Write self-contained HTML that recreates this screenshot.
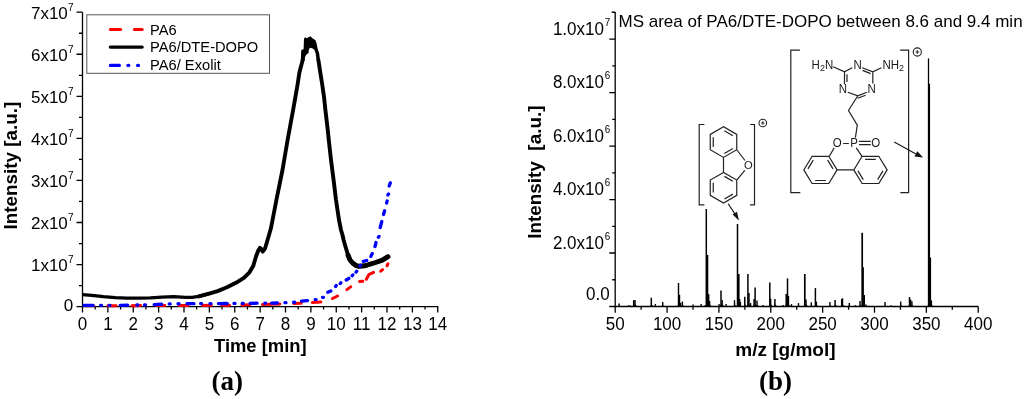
<!DOCTYPE html>
<html><head><meta charset="utf-8"><style>
html,body{margin:0;padding:0;background:#fff;width:1024px;height:399px;overflow:hidden}
svg{display:block;will-change:transform}

</style></head><body>
<svg width="1024" height="399" viewBox="0 0 1024 399">
<rect width="1024" height="399" fill="#fff"/>
<g stroke="#000" stroke-width="1.3" fill="none">
<path d="M82.5 12.2 V306.6 H438.2"/>
<path d="M76.5 12.2H82.5M79 33.23H82.5M76.5 54.26H82.5M79 75.29H82.5M76.5 96.32H82.5M79 117.35H82.5M76.5 138.38H82.5M79 159.41H82.5M76.5 180.44H82.5M79 201.47H82.5M76.5 222.5H82.5M79 243.53H82.5M76.5 264.56H82.5M79 285.59H82.5M76.5 306.62H82.5M82.5 306.6V312.5M95.19 306.6V309.5M107.88 306.6V312.5M120.56 306.6V309.5M133.25 306.6V312.5M145.94 306.6V309.5M158.62 306.6V312.5M171.31 306.6V309.5M184 306.6V312.5M196.69 306.6V309.5M209.38 306.6V312.5M222.06 306.6V309.5M234.75 306.6V312.5M247.44 306.6V309.5M260.12 306.6V312.5M272.81 306.6V309.5M285.5 306.6V312.5M298.19 306.6V309.5M310.88 306.6V312.5M323.56 306.6V309.5M336.25 306.6V312.5M348.94 306.6V309.5M361.62 306.6V312.5M374.31 306.6V309.5M387 306.6V312.5M399.69 306.6V309.5M412.38 306.6V312.5M425.06 306.6V309.5M437.75 306.6V312.5"/>
</g>
<g font-family="Liberation Sans" font-size="17" fill="#000" text-anchor="end">
<text x="67.8" y="19">7x10</text>
<text x="73.5" y="10.7" font-size="10">7</text>
<text x="67.8" y="61.06">6x10</text>
<text x="73.5" y="52.76" font-size="10">7</text>
<text x="67.8" y="103.12">5x10</text>
<text x="73.5" y="94.82" font-size="10">7</text>
<text x="67.8" y="145.18">4x10</text>
<text x="73.5" y="136.88" font-size="10">7</text>
<text x="67.8" y="187.24">3x10</text>
<text x="73.5" y="178.94" font-size="10">7</text>
<text x="67.8" y="229.3">2x10</text>
<text x="73.5" y="221" font-size="10">7</text>
<text x="67.8" y="271.36">1x10</text>
<text x="73.5" y="263.06" font-size="10">7</text>
<text x="73.3" y="310.5">0</text>
</g>
<g font-family="Liberation Sans" font-size="17" fill="#000" text-anchor="middle">
<text transform="translate(82.5 330) scale(1 1.04)">0</text>
<text transform="translate(107.88 330) scale(1 1.04)">1</text>
<text transform="translate(133.25 330) scale(1 1.04)">2</text>
<text transform="translate(158.62 330) scale(1 1.04)">3</text>
<text transform="translate(184 330) scale(1 1.04)">4</text>
<text transform="translate(209.38 330) scale(1 1.04)">5</text>
<text transform="translate(234.75 330) scale(1 1.04)">6</text>
<text transform="translate(260.12 330) scale(1 1.04)">7</text>
<text transform="translate(285.5 330) scale(1 1.04)">8</text>
<text transform="translate(310.88 330) scale(1 1.04)">9</text>
<text transform="translate(336.25 330) scale(1 1.04)">10</text>
<text transform="translate(361.62 330) scale(1 1.04)">11</text>
<text transform="translate(387 330) scale(1 1.04)">12</text>
<text transform="translate(412.38 330) scale(1 1.04)">13</text>
<text transform="translate(437.75 330) scale(1 1.04)">14</text>
</g>
<rect x="86.8" y="14.8" width="182.7" height="58.5" fill="none" stroke="#555" stroke-width="1"/>
<g stroke-width="3.2" stroke-linecap="round" fill="none">
<path d="M110.4 29.5H120.6M134.4 29.5H142.1" stroke="#f00"/>
<path d="M110.4 47.1H142.1" stroke="#000" stroke-width="3.4"/>
<path d="M110.4 65.4H119.4M127.9 65.4h0.9M137.6 65.4h0.9" stroke="#00f"/>
</g>
<g font-family="Liberation Sans" font-size="14.7" fill="#000">
<text x="150" y="34.7">PA6</text>
<text x="150" y="52.2">PA6/DTE-DOPO</text>
<text x="150" y="70.1">PA6/ Exolit</text>
</g>
<clipPath id="cp"><rect x="82.6" y="0" width="360" height="320"/></clipPath>
<path clip-path="url(#cp)" d="M84.5 305.79L93.5 305.76M107.9 305.71L116 305.69M131.9 305.63L140.6 305.6M156.5 305.55L164.7 305.52M178.8 305.47L188.1 305.44M202.5 305.39L211.3 305.36M221.9 305.33L229.5 305.3M241.9 304.97L250 304.75M262.4 304.41L279.8 303.93M293.7 303.55L301.2 303.26M312.4 302.54L320.8 301.95M332.5 298.5L337.5 296M346.9 289.6L350.7 286.9M359.6 281.6L362.8 281.3M366.3 279.2L368.8 274.7L373.5 272.4M380.8 271.2L382.6 269.7M387.1 265.8L387.9 263.8" stroke="#f00" stroke-width="3" fill="none" stroke-linecap="round" stroke-linejoin="round"/>
<path clip-path="url(#cp)" d="M82.5 294.6 L91.7 295.3 L103.4 296.7 L115.2 297.7 L126.9 298.1 L138.6 298.2 L150.3 297.9 L162 297.1 L173.8 296.7 L185.5 297.3 L192 297.4 L198.8 296.3 L208.2 293.9" stroke="#000" stroke-width="3.3" fill="none" stroke-linejoin="round" stroke-linecap="round"/>
<path d="M198.8 296.3 L208.2 293.9 L217.6 291.1 L227 287.3 L236.4 282.6 L243.9 277.9 L249.5 272.3 L253.3 265.7 L256.1 256.3 L258.3 250.5 L259.9 247.9 L261.3 249 L262.7 251.6 L265 248.5 L268 238.5 L271 228 L276.4 200 L282.5 170 L287.6 140 L293.1 110 L295.3 97.6 L297.5 85 L299.4 72.5 L302.7 60 M318.4 60 L320.3 72.5 L322.3 85 L324.1 97.6 L325.4 110 L327.3 126 L329 142 L331 160 L333.6 180 L336 200 L337.5 210 L339 220 L341 230 L342.5 235 L343.6 240 L345 245 L346.5 250 L348 255 L350 260 L352.6 263 L355.6 265.3 L359.1 266.3 L365.1 265.8 L371.1 263.8 L375.6 262.5 L382.4 260.1 L388 256.7" stroke="#000" stroke-width="3.9" fill="none" stroke-linejoin="round" stroke-linecap="round"/>
<path d="M300.8 60.5L301.2 50.6L302.2 49.6L303.6 49.2L304 38.7L305 37.3L306.8 38.3L308.9 36.9L310.6 36.2L312.1 38L313.8 39L315.6 40.4L316.6 43.6L317.7 48.9L319.1 53.1L320.1 60.5L316.6 60.5L315.6 53.1L314.2 49.6L312.1 48.2L310 47.8L308.9 49.6L308.5 53.1L306.4 54.5L305 57.3L304.7 60.5Z" fill="#000"/>
<path d="M348 255 L350 260 L352.6 263 L355.6 265.3 L359.1 266.3 L365.1 265.8 L371.1 263.8 L375.6 262.5 L382.4 260.1 L388 256.7" stroke="#000" stroke-width="4.9" fill="none" stroke-linejoin="round" stroke-linecap="round"/>
<path clip-path="url(#cp)" d="M84 305.4L93 305.37M100.6 305.35h1M109 305.33h1M120.2 305.3L127.7 305.17M136.9 305.01h1M144.5 304.88h1M154.2 304.6L161.7 304.25M169.2 303.97h1M178 303.74h1M187 303.67L194 303.64M200.6 303.62h1M210 303.58h1M218.4 303.55L227.2 303.51M234 303.45h1M242.2 303.37h1M250.1 303.29L257.1 303.22M264.7 303.13h1M271.5 303.07L277.4 303.01M285 302.65h1M293.6 302.24h1M301.5 301.18L307.5 300.68M315.1 299.57h1M322.5 297.3h1M327.8 292.3L330.8 291M335.6 286.4L336.2 285.6M340.3 283.6L340.9 282.8M346.3 280L348.9 278.3M352.2 275.7L352.8 274.9M356.1 272.1L356.7 271.3M360 266L360.6 265.2M363.3 261.4L366.7 260.5M370.9 256.4L372.2 253.6M375 246.5L376 242.5M378.4 237.2L379 236.4M380.2 227.5L381.8 221.5M383.5 214.5L384.6 210.8M386.6 203L387.2 201M387.9 194.9L388.5 194.1M389.2 186L390.3 182.9" stroke="#00f" stroke-width="3.3" fill="none" stroke-linecap="round" stroke-linejoin="round"/>
<text transform="translate(16.7 229.4) rotate(-90)" font-family="Liberation Sans" font-weight="bold" font-size="18.85" xml:space="preserve">Intensity [a.u.]</text>
<text x="214" y="352.3" font-family="Liberation Sans" font-weight="bold" font-size="18.4">Time [min]</text>
<text x="211.5" y="390" font-family="Liberation Serif" font-weight="bold" font-size="27">(a)</text>
<g stroke="#000" stroke-width="1.3" fill="none">
<path d="M615.2 12 V306.5 M609.3 306.5 H978.3"/>
<path d="M611.7 12.2H615.2M609.3 39.1H615.2M612.2 12.36H615.2M609.3 92.58H615.2M612.2 65.84H615.2M609.3 146.06H615.2M612.2 119.32H615.2M609.3 199.54H615.2M612.2 172.8H615.2M609.3 253.02H615.2M612.2 226.28H615.2M612.2 279.76H615.2M615.2 306.5V312.8M641.13 306.5V309.8M667.06 306.5V312.8M692.99 306.5V309.8M718.92 306.5V312.8M744.85 306.5V309.8M770.78 306.5V312.8M796.71 306.5V309.8M822.64 306.5V312.8M848.57 306.5V309.8M874.5 306.5V312.8M900.43 306.5V309.8M926.36 306.5V312.8M952.29 306.5V309.8M978.22 306.5V312.8"/>
</g>
<g font-family="Liberation Sans" font-size="17" fill="#000" text-anchor="end">
<text transform="translate(603.9 35) scale(1 1.06)">1.0x10</text>
<text transform="translate(604.8 26) scale(1 1.06)" font-size="9.8" text-anchor="start">7</text>
<text transform="translate(603.9 88.48) scale(1 1.06)">8.0x10</text>
<text transform="translate(604.8 79.48) scale(1 1.06)" font-size="9.8" text-anchor="start">6</text>
<text transform="translate(603.9 141.96) scale(1 1.06)">6.0x10</text>
<text transform="translate(604.8 132.96) scale(1 1.06)" font-size="9.8" text-anchor="start">6</text>
<text transform="translate(603.9 195.44) scale(1 1.06)">4.0x10</text>
<text transform="translate(604.8 186.44) scale(1 1.06)" font-size="9.8" text-anchor="start">6</text>
<text transform="translate(603.9 248.92) scale(1 1.06)">2.0x10</text>
<text transform="translate(604.8 239.92) scale(1 1.06)" font-size="9.8" text-anchor="start">6</text>
<text transform="translate(609.6 299.6) scale(1 1.06)">0.0</text>
</g>
<g font-family="Liberation Sans" font-size="17" fill="#000" text-anchor="middle">
<text transform="translate(615.2 330) scale(1 1.06)">50</text>
<text transform="translate(667.06 330) scale(1 1.06)">100</text>
<text transform="translate(718.92 330) scale(1 1.06)">150</text>
<text transform="translate(770.78 330) scale(1 1.06)">200</text>
<text transform="translate(822.64 330) scale(1 1.06)">250</text>
<text transform="translate(874.5 330) scale(1 1.06)">300</text>
<text transform="translate(926.36 330) scale(1 1.06)">350</text>
<text transform="translate(978.22 330) scale(1 1.06)">400</text>
</g>
<text x="618.5" y="26.6" font-family="Liberation Sans" font-size="17">MS area of PA6/DTE-DOPO between 8.6 and 9.4 min</text>
<text transform="translate(540.6 238.8) rotate(-90)" font-family="Liberation Sans" font-weight="bold" font-size="18.9" xml:space="preserve">Intensity  [a.u.]</text>
<text x="735.3" y="356" font-family="Liberation Sans" font-weight="bold" font-size="19">m/z [g/mol]</text>
<text x="759" y="390" font-family="Liberation Serif" font-weight="bold" font-size="27">(b)</text>
<path d="M617.9 306.5L619.1 305.63L621.7 306.5ZM632.5 306.5L633.7 304.61L636.3 306.5ZM633.8 306.5L635 304.55L637.6 306.5ZM650.1 306.5L651.3 304.3L653.9 306.5ZM654.2 306.5L655.4 305.75L658 306.5ZM661.5 306.5L662.7 305.18L665.3 306.5ZM677.3 306.5L678.5 304.3L681.1 306.5ZM678.2 306.5L679.4 304.3L682 306.5ZM679.4 306.5L680.6 305.39L683.2 306.5ZM681.2 306.5L682.4 305L685 306.5ZM699.9 306.5L701.1 305.72L703.7 306.5ZM705.1 306.5L706.3 304.3L708.9 306.5ZM706.1 306.5L707.3 304.3L709.9 306.5ZM707.4 306.5L708.6 304.3L711.2 306.5ZM708.4 306.5L709.6 304.85L712.2 306.5ZM717.9 306.5L719.1 305.72L721.7 306.5ZM719.8 306.5L721 304.3L723.6 306.5ZM721 306.5L722.2 304.58L724.8 306.5ZM724.9 306.5L726.1 305.75L728.7 306.5ZM733.3 306.5L734.5 304.58L737.1 306.5ZM736.3 306.5L737.5 304.3L740.1 306.5ZM737.5 306.5L738.7 304.3L741.3 306.5ZM738.4 306.5L739.6 304.3L742.2 306.5ZM739.2 306.5L740.4 305.15L743 306.5ZM743.6 306.5L744.8 304.3L747.4 306.5ZM746.7 306.5L747.9 304.3L750.5 306.5ZM747.7 306.5L748.9 304.3L751.5 306.5ZM749.4 306.5L750.6 305.45L753.2 306.5ZM752.9 306.5L754.1 304.3L756.7 306.5ZM753.9 306.5L755.1 304.3L757.7 306.5ZM755.8 306.5L757 304.73L759.6 306.5ZM768.6 306.5L769.8 304.3L772.4 306.5ZM769.4 306.5L770.6 304.3L773.2 306.5ZM773.7 306.5L774.9 304.3L777.5 306.5ZM785 306.5L786.2 304.3L788.8 306.5ZM786.3 306.5L787.5 304.3L790.1 306.5ZM787.2 306.5L788.4 304.3L791 306.5ZM790.3 306.5L791.5 305.78L794.1 306.5ZM797.3 306.5L798.5 305.48L801.1 306.5ZM803.6 306.5L804.8 304.3L807.4 306.5ZM804.8 306.5L806 304.43L808.6 306.5ZM810.1 306.5L811.3 305.24L813.9 306.5ZM814.2 306.5L815.4 304.3L818 306.5ZM815.2 306.5L816.4 305.03L819 306.5ZM828.7 306.5L829.9 305.18L832.5 306.5ZM833.9 306.5L835.1 304.52L837.7 306.5ZM840.5 306.5L841.7 304.3L844.3 306.5ZM841.3 306.5L842.5 304.3L845.1 306.5ZM848.1 306.5L849.3 305.45L851.9 306.5ZM858.8 306.5L860 304.88L862.6 306.5ZM861 306.5L862.2 304.3L864.8 306.5ZM861.8 306.5L863 304.3L865.6 306.5ZM863 306.5L864.2 304.3L866.8 306.5ZM883.8 306.5L885 305.15L887.6 306.5ZM899.5 306.5L900.7 305.03L903.3 306.5ZM908.3 306.5L909.5 304.3L912.1 306.5ZM909.4 306.5L910.6 304.43L913.2 306.5ZM910.7 306.5L911.9 304.91L914.5 306.5ZM927.3 306.5L928.5 304.3L931.1 306.5ZM928.2 306.5L929.4 304.3L932 306.5ZM929.2 306.5L930.4 304.3L933 306.5ZM930.2 306.5L931.4 304.67L934 306.5Z" fill="#000"/>
<g stroke="#000" fill="none">
<path d="M619.1 306.5V303.6" stroke-width="1.5"/>
<path d="M628.4 306.5V305.3" stroke-width="1.2"/>
<path d="M630.2 306.5V305.3" stroke-width="1.2"/>
<path d="M633.7 306.5V300.2" stroke-width="1.5"/>
<path d="M635 306.5V300" stroke-width="1.5"/>
<path d="M651.3 306.5V297.7" stroke-width="1.5"/>
<path d="M655.4 306.5V304" stroke-width="1.3"/>
<path d="M662.7 306.5V302.1" stroke-width="1.4"/>
<path d="M678.5 306.5V283" stroke-width="1.4"/>
<path d="M679.4 306.5V294.8" stroke-width="1.6"/>
<path d="M680.6 306.5V302.8" stroke-width="1.4"/>
<path d="M682.4 306.5V301.5" stroke-width="1.4"/>
<path d="M693.1 306.5V304.5" stroke-width="1.4"/>
<path d="M701.1 306.5V303.9" stroke-width="1.4"/>
<path d="M705.2 306.5V305" stroke-width="1.2"/>
<path d="M706.3 306.5V209" stroke-width="1.5"/>
<path d="M707.3 306.5V255" stroke-width="2.0"/>
<path d="M708.6 306.5V294.2" stroke-width="1.6"/>
<path d="M709.6 306.5V301" stroke-width="1.4"/>
<path d="M719.1 306.5V303.9" stroke-width="1.3"/>
<path d="M721 306.5V290.5" stroke-width="1.5"/>
<path d="M722.2 306.5V300.1" stroke-width="1.4"/>
<path d="M726.1 306.5V304" stroke-width="1.3"/>
<path d="M734.5 306.5V300.1" stroke-width="1.4"/>
<path d="M737.5 306.5V224" stroke-width="1.5"/>
<path d="M738.7 306.5V274" stroke-width="1.8"/>
<path d="M739.6 306.5V299.1" stroke-width="1.5"/>
<path d="M740.4 306.5V302" stroke-width="1.3"/>
<path d="M744.8 306.5V296.8" stroke-width="1.5"/>
<path d="M747.9 306.5V274" stroke-width="1.5"/>
<path d="M748.9 306.5V293.1" stroke-width="1.6"/>
<path d="M750.6 306.5V303" stroke-width="1.3"/>
<path d="M754.1 306.5V299" stroke-width="1.5"/>
<path d="M755.1 306.5V287.6" stroke-width="1.5"/>
<path d="M757 306.5V300.6" stroke-width="1.4"/>
<path d="M763.1 306.5V305" stroke-width="1.4"/>
<path d="M769.8 306.5V282.5" stroke-width="1.5"/>
<path d="M770.6 306.5V298.6" stroke-width="1.5"/>
<path d="M774.9 306.5V298.9" stroke-width="1.5"/>
<path d="M783.2 306.5V305" stroke-width="1.4"/>
<path d="M786.2 306.5V294.1" stroke-width="1.5"/>
<path d="M787.5 306.5V278.4" stroke-width="1.5"/>
<path d="M788.4 306.5V296" stroke-width="1.5"/>
<path d="M791.5 306.5V304.1" stroke-width="1.4"/>
<path d="M798.5 306.5V303.1" stroke-width="1.4"/>
<path d="M804.8 306.5V274" stroke-width="1.7"/>
<path d="M806 306.5V299.6" stroke-width="1.5"/>
<path d="M811.3 306.5V302.3" stroke-width="1.4"/>
<path d="M815.4 306.5V288.1" stroke-width="1.5"/>
<path d="M816.4 306.5V301.6" stroke-width="1.4"/>
<path d="M829.9 306.5V302.1" stroke-width="1.4"/>
<path d="M835.1 306.5V299.9" stroke-width="1.5"/>
<path d="M841.7 306.5V299.1" stroke-width="1.5"/>
<path d="M842.5 306.5V298.3" stroke-width="1.5"/>
<path d="M849.3 306.5V303" stroke-width="1.4"/>
<path d="M855.5 306.5V305.1" stroke-width="1.3"/>
<path d="M860 306.5V301.1" stroke-width="1.4"/>
<path d="M862.2 306.5V232.8" stroke-width="1.7"/>
<path d="M863 306.5V267.3" stroke-width="1.8"/>
<path d="M864.2 306.5V295.1" stroke-width="1.6"/>
<path d="M866 306.5V304.6" stroke-width="1.3"/>
<path d="M885 306.5V302" stroke-width="1.4"/>
<path d="M891.1 306.5V305.2" stroke-width="1.3"/>
<path d="M900.7 306.5V301.6" stroke-width="1.4"/>
<path d="M909.5 306.5V297" stroke-width="1.5"/>
<path d="M910.6 306.5V299.6" stroke-width="1.5"/>
<path d="M911.9 306.5V301.2" stroke-width="1.4"/>
<path d="M928.5 306.5V58.4" stroke-width="1.3"/>
<path d="M929.4 306.5V83.7" stroke-width="1.3"/>
<path d="M930.4 306.5V257.5" stroke-width="1.4"/>
<path d="M931.4 306.5V300.4" stroke-width="1.4"/>
</g>
<path d="M723.5 126.8L710.25 134.45L710.25 149.75L723.5 157.4L736.75 149.75L736.75 134.45ZM713.25 137.2L713.25 147M732.87 135.67L724.39 130.78M724.39 153.42L732.87 148.53M723.5 172.4L710.25 180.05L710.25 195.35L723.5 203L736.75 195.35L736.75 180.05ZM713.25 182.8L713.25 192.6M732.87 181.27L724.39 176.38M724.39 199.02L732.87 194.13M723.5 157.4L723.5 172.4M736.75 149.75L745 160.5M736.75 180.05L744.8 170.3M704.4 124.5H699.2V204.9H704.4M750 124.5H754.5V204.9H750" stroke="#222" stroke-width="1.2" fill="none"/>
<text transform="translate(748.3 169.3) scale(1 1.05)" font-family="Liberation Sans" font-size="11.2" fill="#1a1a1a" text-anchor="middle">O</text>
<circle cx="762.8" cy="123" r="3.8" stroke="#222" stroke-width="1.1" fill="none"/>
<path d="M761 123h3.6M762.8 121.2v3.6" stroke="#333" stroke-width="1.1"/>
<path d="M728.2 203.8L735.4 214.6" stroke="#111" stroke-width="1.1"/>
<path d="M738.9 220.4L732.6 214.6L737 211.7Z" fill="#111"/>
<path d="M799.9 50.2H790.8V192.6H800.3M900.1 50.2H908.6V192.6H900.3M833.2 66.8L844.5 71.9L852.2 67.8M844.5 71.9V84.2M847 74.2V82M847.8 92.3L857.8 95.8L867 92.3M857.6 98.3L865.6 95.2M872.8 71.9V83.5M862.2 67.8L872.8 71.9L881.4 67.8M862.6 70.4L870.6 73.6M857.8 95.8L848.5 110.5L857.3 125.1L855.4 137.7M843.2 143.5H848.9M859 141.3H870.8M859 144.7H870.8M834.2 147.9L829.3 156.2M856.2 147.9L861.9 156.2M837.1 169.9L828.78 156.3L812.12 156.3L803.8 169.9L812.12 183.5L828.78 183.5ZM813.26 160.18L807.93 168.89M815.12 180.5L825.78 180.5M832.97 168.89L827.64 160.18M887.1 169.9L878.78 156.3L862.12 156.3L853.8 169.9L862.12 183.5L878.78 183.5ZM875.78 159.3L865.12 159.3M857.93 170.91L863.26 179.62M877.64 179.62L882.97 170.91M837.1 169.9L853.8 169.9" stroke="#222" stroke-width="1.2" fill="none"/>
<text transform="translate(811.6 68.6) scale(1 1.07)" font-family="Liberation Sans" font-size="11.5" fill="#1a1a1a" text-anchor="start">H<tspan font-size="9" dy="2.1">2</tspan><tspan dy="-2.1">N</tspan></text>
<text transform="translate(857.7 68.6) scale(1 1.07)" font-family="Liberation Sans" font-size="11.5" fill="#1a1a1a" text-anchor="middle">N</text>
<text transform="translate(882.4 68.6) scale(1 1.07)" font-family="Liberation Sans" font-size="11.5" fill="#1a1a1a" text-anchor="start">NH<tspan font-size="9" dy="2.1">2</tspan></text>
<text transform="translate(843 92.5) scale(1 1.07)" font-family="Liberation Sans" font-size="11.5" fill="#1a1a1a" text-anchor="middle">N</text>
<text transform="translate(871.6 92.5) scale(1 1.07)" font-family="Liberation Sans" font-size="11.5" fill="#1a1a1a" text-anchor="middle">N</text>
<text transform="translate(837.2 147.2) scale(1 1.07)" font-family="Liberation Sans" font-size="11.5" fill="#1a1a1a" text-anchor="middle">O</text>
<text transform="translate(854 147.2) scale(1 1.07)" font-family="Liberation Sans" font-size="11.5" fill="#1a1a1a" text-anchor="middle">P</text>
<text transform="translate(875.8 147.2) scale(1 1.07)" font-family="Liberation Sans" font-size="11.5" fill="#1a1a1a" text-anchor="middle">O</text>
<circle cx="917.3" cy="52" r="4.1" stroke="#222" stroke-width="1.1" fill="none"/>
<path d="M915.4 52h3.8M917.3 50.1v3.8" stroke="#333" stroke-width="1.1"/>
<path d="M894.2 142L916 154" stroke="#111" stroke-width="1.1"/>
<path d="M923.1 157.6L914.5 156.4L917.3 151.3Z" fill="#111"/>
</svg>
</body></html>
